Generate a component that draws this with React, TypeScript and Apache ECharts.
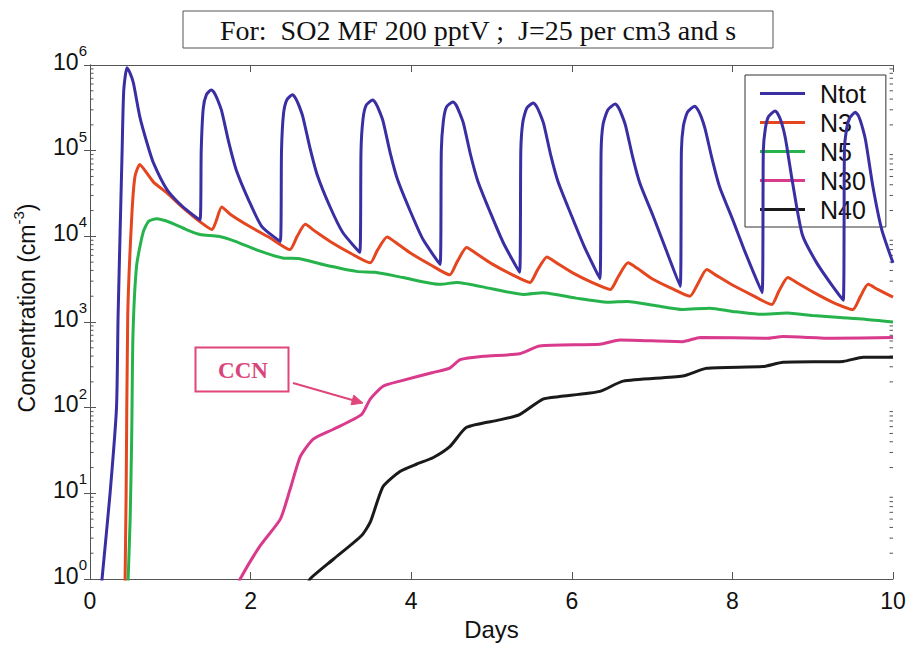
import React, { useEffect, useRef } from "react";
import * as echarts from "echarts";

// ---- data (day, concentration cm^-3) ----
const ntot: [number, number][] = [
  [0.10, 0.3], [0.15, 1], [0.25, 10], [0.33, 100], [0.35, 1200], [0.40, 1e5], [0.42, 5e5], [0.46, 9.3e5],
  [0.50, 8e5], [0.54, 6.2e5], [0.62, 2.5e5], [0.71, 1.23e5], [0.79, 7.2e4], [0.96, 3.5e4], [1.16, 2.2e4], [1.37, 1.55e4],
  [1.385, 1e5], [1.41, 3.1e5], [1.45, 4.5e5], [1.51, 5.1e5], [1.55, 4.7e5], [1.59, 3.9e5],
  [1.64, 2.9e5], [1.73, 1.23e5], [1.82, 6e4], [1.98, 2.6e4], [2.14, 1.3e4], [2.37, 8.7e3],
  [2.385, 1e5], [2.41, 2.7e5], [2.45, 3.9e5], [2.52, 4.5e5], [2.56, 4.1e5], [2.60, 3.4e5],
  [2.65, 2.5e5], [2.74, 1.07e5], [2.83, 5.2e4], [2.99, 2.2e4], [3.15, 1.1e4], [3.36, 6.5e3],
  [3.375, 1e5], [3.40, 2.35e5], [3.44, 3.4e5], [3.52, 3.9e5], [3.56, 3.55e5], [3.60, 2.95e5],
  [3.65, 2.2e5], [3.74, 9.3e4], [3.83, 4.6e4], [3.99, 1.95e4], [4.15, 9.1e3], [4.36, 4.7e3],
  [4.375, 1e5], [4.40, 2.2e5], [4.44, 3.25e5], [4.52, 3.7e5], [4.56, 3.4e5], [4.60, 2.8e5],
  [4.65, 2.1e5], [4.74, 8.9e4], [4.83, 4.4e4], [4.99, 1.85e4], [5.15, 8.3e3], [5.35, 3.8e3],
  [5.365, 1e5], [5.39, 2.15e5], [5.44, 3.15e5], [5.52, 3.6e5], [5.56, 3.3e5], [5.60, 2.75e5],
  [5.65, 2.05e5], [5.74, 8.7e4], [5.83, 4.3e4], [5.99, 1.8e4], [6.15, 7.8e3], [6.35, 3.2e3],
  [6.365, 1e5], [6.39, 2.05e5], [6.45, 3e5], [6.54, 3.5e5], [6.58, 3.2e5], [6.62, 2.65e5],
  [6.67, 1.95e5], [6.76, 8.3e4], [6.85, 4.1e4], [7.01, 1.75e4], [7.17, 7.1e3], [7.35, 2.6e3],
  [7.365, 1e5], [7.39, 1.95e5], [7.44, 2.8e5], [7.53, 3.3e5], [7.57, 3e5], [7.61, 2.5e5],
  [7.66, 1.8e5], [7.75, 7.8e4], [7.84, 3.8e4], [8.00, 1.6e4], [8.16, 6.5e3], [8.37, 2.2e3],
  [8.385, 1e5], [8.41, 1.8e5], [8.45, 2.5e5], [8.53, 2.9e5], [8.57, 2.65e5], [8.61, 2.15e5],
  [8.66, 1.4e5], [8.75, 4.2e4], [8.87, 1.05e4], [9.05, 4.9e3], [9.25, 2.6e3], [9.38, 1.8e3],
  [9.395, 1e5], [9.42, 1.75e5], [9.46, 2.4e5], [9.53, 2.8e5], [9.57, 2.55e5], [9.61, 2e5],
  [9.66, 1.3e5], [9.75, 3.8e4], [9.86, 1.2e4], [10.0, 4.9e3],
];

const n3: [number, number][] = [
  [0.43, 0.3], [0.45, 10], [0.47, 1200], [0.52, 1.7e4], [0.56, 5e4], [0.62, 6.9e4], [0.70, 5.6e4], [0.79, 4.3e4],
  [0.96, 3.2e4], [1.16, 2.15e4], [1.37, 1.48e4], [1.52, 1.2e4], [1.57, 1.5e4], [1.64, 2.2e4], [1.75, 1.8e4],
  [1.99, 1.3e4], [2.25, 9.5e3], [2.49, 7e3], [2.58, 1e4], [2.68, 1.38e4], [2.80, 1.15e4], [2.99, 8.7e3],
  [3.25, 6.3e3], [3.49, 4.9e3], [3.58, 6.9e3], [3.70, 9.8e3], [3.82, 8.3e3], [4.0, 6.3e3], [4.25, 4.6e3],
  [4.48, 3.55e3], [4.57, 5e3], [4.69, 7.4e3], [4.81, 6.3e3], [5.0, 4.8e3], [5.25, 3.6e3], [5.48, 2.9e3],
  [5.57, 4e3], [5.69, 5.75e3], [5.81, 4.9e3], [6.0, 3.8e3], [6.25, 2.9e3], [6.48, 2.4e3], [6.58, 3.4e3],
  [6.70, 4.9e3], [6.82, 4.2e3], [7.0, 3.2e3], [7.25, 2.45e3], [7.47, 2e3], [7.57, 2.8e3], [7.68, 4.1e3],
  [7.80, 3.5e3], [8.0, 2.7e3], [8.25, 2.05e3], [8.49, 1.6e3], [8.58, 2.3e3], [8.69, 3.3e3], [8.81, 2.85e3],
  [9.0, 2.25e3], [9.25, 1.7e3], [9.50, 1.4e3], [9.59, 1.95e3], [9.69, 2.75e3], [9.81, 2.4e3], [10.0, 1.95e3],
];

const n5: [number, number][] = [
  [0.46, 0.3], [0.475, 1], [0.50, 5], [0.52, 50], [0.535, 700], [0.58, 4.5e3], [0.66, 1.1e4], [0.73, 1.5e4],
  [0.83, 1.6e4], [1.0, 1.45e4], [1.2, 1.2e4], [1.37, 1.05e4], [1.6, 1e4], [1.8, 8.8e3], [2.1, 6.8e3],
  [2.4, 5.6e3], [2.6, 5.5e3], [2.9, 4.7e3], [3.32, 3.9e3], [3.55, 3.8e3], [3.9, 3.3e3], [4.36, 2.75e3],
  [4.57, 2.9e3], [5.0, 2.45e3], [5.4, 2.1e3], [5.64, 2.2e3], [6.05, 1.9e3], [6.45, 1.7e3], [6.69, 1.74e3],
  [7.05, 1.55e3], [7.38, 1.4e3], [7.72, 1.45e3], [8.0, 1.33e3], [8.34, 1.23e3], [8.68, 1.27e3], [9.0, 1.19e3],
  [9.34, 1.13e3], [9.65, 1.08e3], [10.0, 1.0e3],
];

const n30: [number, number][] = [
  [1.80, 0.7], [1.87, 1], [2.12, 2.45], [2.37, 5], [2.49, 11], [2.62, 27], [2.78, 43], [3.03, 56],
  [3.38, 83], [3.49, 126], [3.65, 178], [3.86, 204], [4.27, 257], [4.48, 290], [4.61, 363], [4.9, 398],
  [5.35, 427], [5.6, 525], [6.35, 550], [6.6, 617], [7.38, 590], [7.6, 660], [8.43, 646], [8.63, 676],
  [9.25, 646], [10.0, 660],
];

const n40: [number, number][] = [
  [2.70, 0.8], [2.74, 1], [3.03, 1.7], [3.38, 3.2], [3.49, 4.6], [3.65, 12], [3.86, 18], [4.07, 22],
  [4.27, 26], [4.48, 35], [4.69, 59], [5.1, 72], [5.35, 83], [5.64, 126], [5.85, 135], [6.35, 155],
  [6.64, 204], [7.38, 234], [7.68, 288], [8.38, 302], [8.63, 339], [9.38, 347], [9.63, 389], [10.0, 389],
];

const seriesNames = ["Ntot", "N3", "N5", "N30", "N40"];
const seriesColors = ["#3a2ea3", "#e4471f", "#27b34b", "#d93a8c", "#1a1a1a"];
const seriesData = [ntot, n3, n5, n30, n40];

const titleText = "For:  SO2 MF 200 pptV ;  J=25 per cm3 and s";
const xName = "Days";
const decades = [1, 10, 100, 1000, 10000, 100000];
const mantissas = [2, 3, 4, 5, 6, 7, 8, 9];

const SANS = "Liberation Sans";
const SERIF = "Liberation Serif";
const AXIS = "#555";

export default function App() {
  const ref = useRef<HTMLDivElement>(null);
  useEffect(() => {
    if (!ref.current) return;
    const chart = echarts.init(ref.current, undefined, { renderer: "svg" });
    const minorData: [number, number][] = [];
    decades.forEach((d) => mantissas.forEach((m) => minorData.push([0, m * d])));

    const lines = seriesNames.map((name, i) => ({
      name,
      type: "line",
      data: seriesData[i],
      symbol: "none",
      showSymbol: false,
      smooth: 0.2,
      clip: true,
      lineStyle: { color: seriesColors[i], width: 3 },
      itemStyle: { color: seriesColors[i] },
      xAxisIndex: 0,
      yAxisIndex: 0,
      z: 2 + (4 - i),
    }));

    const supRich = {
      b: { fontSize: 23, lineHeight: 23, fontFamily: SANS, color: "#111", verticalAlign: "bottom" },
      s: { fontSize: 15, lineHeight: 15, fontFamily: SANS, color: "#111", verticalAlign: "bottom", padding: [0, 0, 15, 0] },
    };

    chart.setOption({
      animation: false,
      backgroundColor: "#fff",
      grid: { left: 90, right: 18, top: 65, bottom: 66, containLabel: false },
      legend: {
        data: seriesNames,
        orient: "vertical",
        left: 745,
        top: 75,
        icon: "rect",
        itemWidth: 45,
        itemHeight: 3,
        itemGap: 0,
        backgroundColor: "#fff",
        borderColor: "#333",
        borderWidth: 1,
        borderRadius: 0,
        padding: [4, 20, 3, 15],
        textStyle: { fontSize: 25, lineHeight: 29, fontFamily: SANS, color: "#111", padding: [0, 0, 0, 10] },
      },
      xAxis: [
        {
          type: "value",
          min: 0,
          max: 10,
          interval: 2,
          position: "bottom",
          name: xName,
          nameLocation: "middle",
          nameGap: 38,
          nameTextStyle: { fontSize: 24, fontFamily: SANS, color: "#111" },
          axisLine: { show: true, lineStyle: { color: AXIS, width: 1 } },
          axisTick: { show: true, inside: true, length: 7, lineStyle: { color: AXIS } },
          axisLabel: { fontSize: 23, fontFamily: SANS, color: "#111", margin: 10 },
          splitLine: { show: false },
        },
        {
          type: "value",
          min: 0,
          max: 10,
          interval: 2,
          position: "top",
          axisLine: { show: true, lineStyle: { color: AXIS, width: 1 } },
          axisTick: { show: true, inside: true, length: 7, lineStyle: { color: AXIS } },
          axisLabel: { show: false },
          splitLine: { show: false },
        },
      ],
      yAxis: [
        {
          type: "log",
          logBase: 10,
          min: 1,
          max: 1e6,
          position: "left",
          name: "{a|Concentration (cm}{s|-3}{a|)}",
          nameLocation: "middle",
          nameGap: 52,
          nameTextStyle: {
            padding: [0, 0, 0, 28],
            rich: {
              a: { fontSize: 23, lineHeight: 23, fontFamily: SANS, color: "#111", verticalAlign: "bottom" },
              s: { fontSize: 15, lineHeight: 15, fontFamily: SANS, color: "#111", verticalAlign: "bottom", padding: [0, 0, 12, 0] },
            },
          },
          axisLine: { show: true, lineStyle: { color: AXIS, width: 1 } },
          axisTick: { show: true, inside: true, length: 6, lineStyle: { color: AXIS } },
          axisLabel: {
            margin: 3,
            padding: [0, 0, 7, 0],
            formatter: (v: number) => `{b|10}{s|${Math.round(Math.log10(v))}}`,
            rich: supRich,
          },
          splitLine: { show: false },
        },
        {
          type: "log",
          logBase: 10,
          min: 1,
          max: 1e6,
          position: "right",
          axisLine: { show: true, lineStyle: { color: AXIS, width: 1 } },
          axisTick: { show: true, inside: true, length: 6, lineStyle: { color: AXIS } },
          axisLabel: { show: false },
          splitLine: { show: false },
        },
      ],
      series: [
        ...lines,
        {
          type: "custom",
          xAxisIndex: 0,
          yAxisIndex: 0,
          silent: true,
          data: minorData,
          encode: { x: 0, y: 1 },
          z: 1,
          renderItem: (params: any, api: any) => {
            const v = api.value(1);
            const pL = api.coord([0, v]);
            const pR = api.coord([10, v]);
            return {
              type: "group",
              children: [
                { type: "line", shape: { x1: pL[0], y1: pL[1], x2: pL[0] + 3.5, y2: pL[1] }, style: { stroke: AXIS, lineWidth: 1 } },
                { type: "line", shape: { x1: pR[0] - 3.5, y1: pR[1], x2: pR[0], y2: pR[1] }, style: { stroke: AXIS, lineWidth: 1 } },
              ],
            };
          },
        },
      ],
      graphic: [
        {
          type: "rect",
          shape: { x: 183, y: 11, width: 590, height: 37 },
          style: { fill: "#fff", stroke: "#555", lineWidth: 1 },
          z: 10,
        },
        {
          type: "text",
          x: 478,
          y: 30,
          style: {
            text: titleText,
            fontFamily: SERIF,
            fontSize: 28,
            fill: "#111",
            align: "center",
            verticalAlign: "middle",
          },
          z: 11,
        },
        {
          type: "rect",
          shape: { x: 195.5, y: 347.5, width: 93, height: 44 },
          style: { fill: "#fff", stroke: "#e0457c", lineWidth: 2 },
          z: 10,
        },
        {
          type: "text",
          x: 243,
          y: 370,
          style: {
            text: "CCN",
            fontFamily: SERIF,
            fontSize: 23,
            fontWeight: "bold",
            fill: "#d9457a",
            align: "center",
            verticalAlign: "middle",
          },
          z: 11,
        },
        {
          type: "line",
          shape: { x1: 293, y1: 383, x2: 354, y2: 400.5 },
          style: { stroke: "#e0457c", lineWidth: 2 },
          z: 10,
        },
        {
          type: "polygon",
          shape: { points: [[363, 403], [351, 404.8], [353.8, 395.2]] },
          style: { fill: "#e0457c", stroke: "#e0457c", lineWidth: 1 },
          z: 10,
        },
      ],
    });
    return () => chart.dispose();
  }, []);
  return (
    <div
      ref={ref}
      style={{ position: "fixed", left: 0, top: 0, width: 911, height: 646, background: "#fff" }}
    />
  );
}
